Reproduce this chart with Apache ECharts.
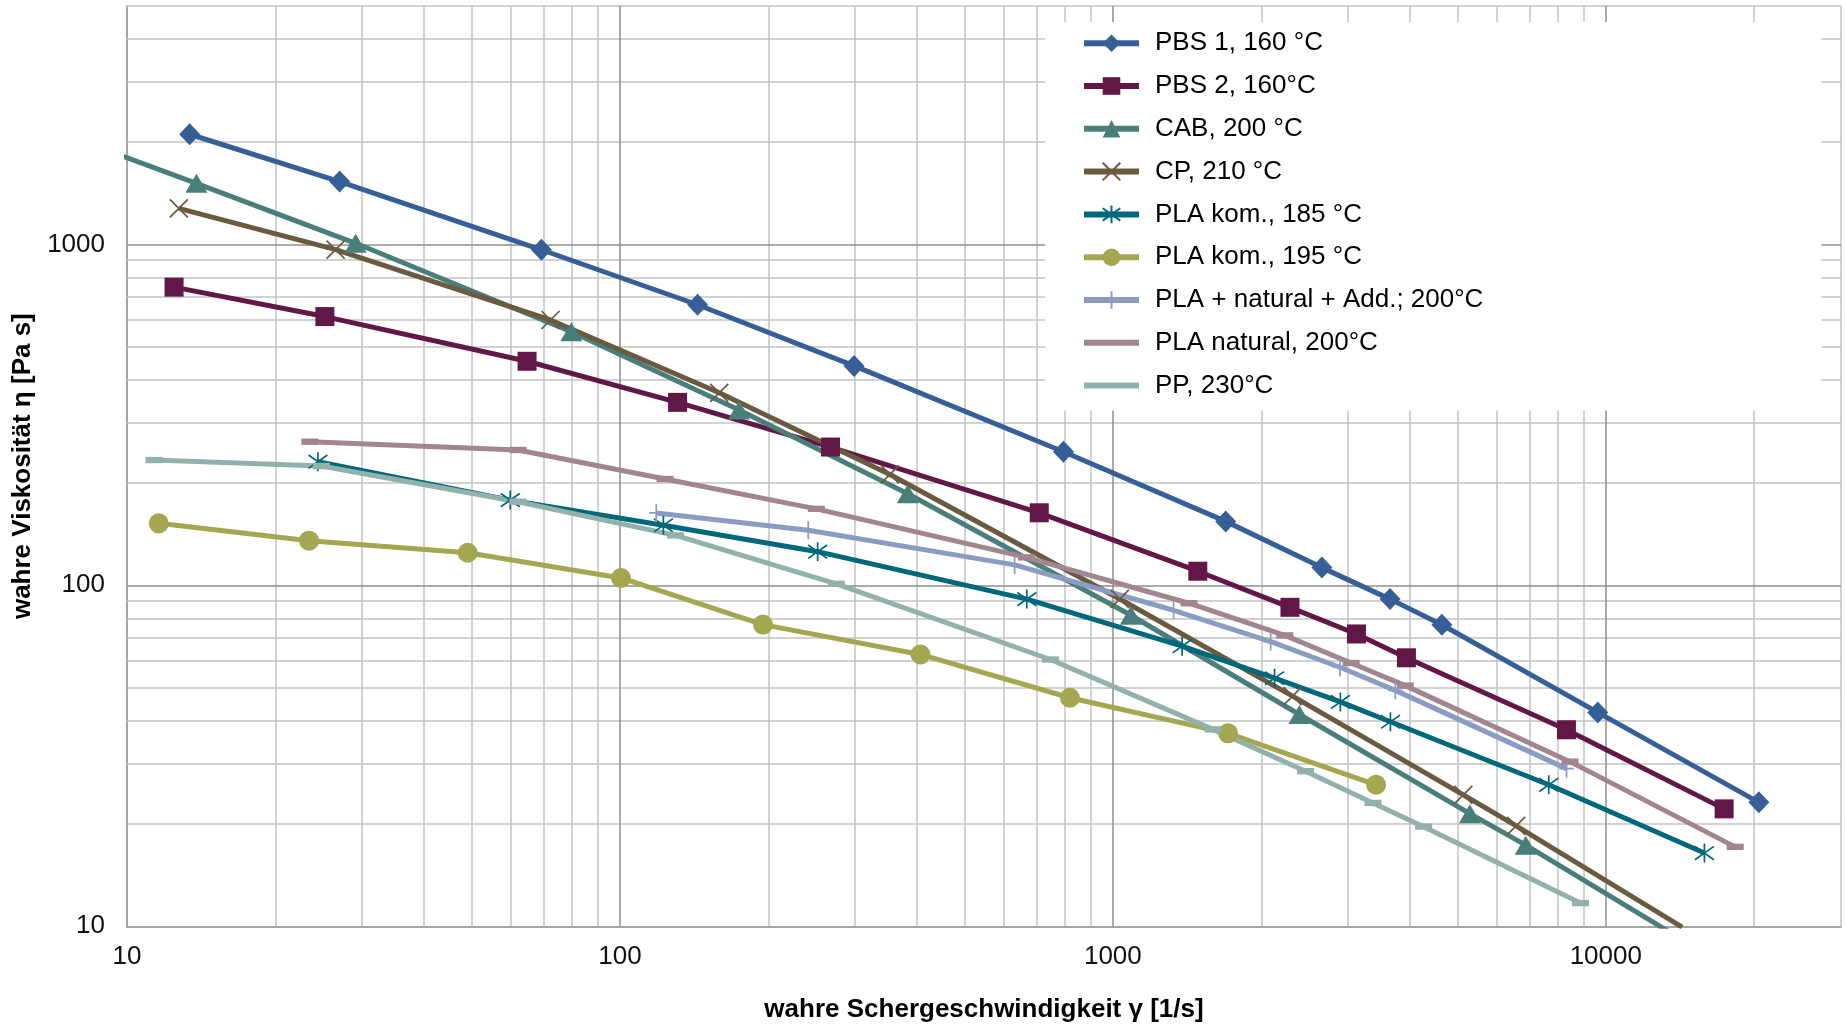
<!DOCTYPE html>
<html>
<head>
<meta charset="utf-8">
<script src="https://cdn.jsdelivr.net/npm/echarts@6/dist/echarts.min.js"></script>
<style>
html,body{margin:0;padding:0;background:#fff;}
#c{width:1845px;height:1024px;}
</style>
</head>
<body>
<div id="c"></div>
<script>
// ---------- data ----------
const seriesNames = [
  'PBS 1, 160 °C', 'PBS 2, 160°C', 'CAB, 200 °C', 'CP, 210 °C',
  'PLA kom., 185 °C', 'PLA kom., 195 °C', 'PLA + natural + Add.; 200°C',
  'PLA natural, 200°C', 'PP, 230°C'
];

const pbs1X = [13.4, 27.0, 69.3, 143.7, 298.5, 794, 1694, 2655, 3650, 4650, 9630, 20440];
const pbs1Y = [2103, 1528, 964, 665, 440, 246.5, 154, 112.7, 91.1, 76.6, 42.4, 23.1];

const pbs2X = [12.46, 25.2, 64.8, 130.9, 267.4, 709, 1487, 2287, 3120, 3940, 8320, 17380];
const pbs2Y = [749, 614, 454, 344, 254.4, 163.2, 110, 86.2, 72.0, 61.3, 37.7, 22.1];

const cabX = [8, 13.83, 29.1, 79.7, 174.5, 383.7, 1088, 2390, 5300, 6880, 14000];
const cabY = [2020, 1510, 1007, 554, 326.5, 185.5, 81.7, 41.8, 21.4, 17.3, 9.3];

const cpX = [12.74, 26.5, 72.3, 159, 353, 1033, 2315, 5140, 6580, 14280];
const cpY = [1275, 965, 600, 367, 211.4, 91.2, 47.3, 24.3, 19.7, 9.95];

const pla185X = [24.4, 59.9, 122.5, 251.8, 669, 1382, 2128, 2894, 3656, 7660, 15850];
const pla185Y = [230.4, 177.8, 150, 125.5, 91.1, 66.3, 53.4, 45.5, 39.8, 26.0, 16.4];

const pla195X = [11.6, 23.4, 49.1, 100.5, 195, 407, 818, 1713, 3420];
const pla195Y = [152, 135.2, 124.6, 105.1, 76.7, 62.7, 46.8, 36.8, 26.0];

const plaAddX = [118.5, 241, 632, 1328, 2090, 2888, 3740, 8325];
const plaAddY = [163, 145, 114.8, 84.5, 68.4, 57.5, 49.2, 29.0];

const plaNatX = [23.5, 62.1, 123.5, 250.3, 668, 1427, 2233, 3043, 3920, 8460, 18300];
const plaNatY = [263.8, 249.4, 205, 167.6, 120.8, 88.6, 71.3, 59.2, 50.8, 30.4, 17.1];

const ppX = [11.34, 24.8, 62.1, 129.7, 274.8, 747, 1597, 2460, 3370, 4270, 8886];
const ppY = [233, 223.8, 175.9, 140.1, 101, 60.6, 37.8, 28.5, 23.0, 19.6, 11.7];

const xTickValues = [10, 100, 1000, 10000];
const xTickLabels = ['10', '100', '1000', '10000'];
const yTickValues = [10, 100, 1000];
const yTickLabels = ['10', '100', '1000'];
const gridMultipliers = [2, 3, 4, 5, 6, 7, 8, 9];
const xDecades = [10, 100, 1000, 10000];
const yDecades = [10, 100, 1000];
const xAxisMax = 30000;
const yAxisMax = 5000;

// ---------- styling ----------
const FONT = 'Liberation Sans, Arial, Helvetica, sans-serif';
const colors = ['#365F97', '#621847', '#4A7E7A', '#6A5A40', '#00687A', '#A4A74F', '#8A9CC3', '#A1858F', '#93B1AC'];

const SYM_X = 'path://M0,0L10,10M10,0L0,10';
const SYM_AST = 'path://M5,0L5,10M0,1.5L10,8.5M10,1.5L0,8.5';
const SYM_PLUS = 'path://M5,0L5,10M1,5L9,5';
const SYM_DASH = 'path://M0,0L16,0L16,6L0,6Z';
const LEGEND_BAR = 'path://M0,0L55,0L55,6L0,6Z';

const symbolDefs = [
  {symbol: 'diamond', size: [21, 22], stroke: false},
  {symbol: 'rect', size: 19, stroke: false},
  {symbol: 'triangle', size: [22, 19], stroke: false},
  {symbol: SYM_X, size: 18, stroke: true},
  {symbol: SYM_AST, size: 19, stroke: true},
  {symbol: 'circle', size: 20, stroke: false},
  {symbol: SYM_PLUS, size: 18, stroke: true},
  {symbol: SYM_DASH, size: 17, stroke: false},
  {symbol: SYM_DASH, size: 17, stroke: false}
];

const dataX = [pbs1X, pbs2X, cabX, cpX, pla185X, pla195X, plaAddX, plaNatX, ppX];
const dataY = [pbs1Y, pbs2Y, cabY, cpY, pla185Y, pla195Y, plaAddY, plaNatY, ppY];

function zip(xs, ys) { return xs.map((x, i) => [x, ys[i]]); }

const series = seriesNames.map((name, i) => {
  const d = symbolDefs[i];
  return {
    name: name,
    type: 'line',
    z: 3,
    data: zip(dataX[i], dataY[i]),
    symbol: d.symbol,
    symbolSize: d.size,
    symbolKeepAspect: true,
    showAllSymbol: true,
    clip: true,
    lineStyle: {color: colors[i], width: 5},
    itemStyle: {
      color: colors[i],
      borderColor: colors[i],
      borderWidth: d.stroke ? 1.7 : 0
    },
    emphasis: {disabled: true},
    animation: false
  };
});

// gridlines drawn through the axes' own scales
const xMinor = [];
xDecades.forEach(dec => gridMultipliers.forEach(m => { if (dec * m <= xAxisMax) xMinor.push(dec * m); }));
const yMinor = [];
yDecades.forEach(dec => gridMultipliers.forEach(m => { if (dec * m <= yAxisMax) yMinor.push(dec * m); }));

function gridSeries(name, values, color) {
  return {
    type: 'line',
    name: name,
    z: 1,
    data: [],
    silent: true,
    animation: false,
    markLine: {
      z: 1,
      silent: true,
      animation: false,
      symbol: ['none', 'none'],
      label: {show: false},
      emphasis: {disabled: true},
      lineStyle: {color: color, width: 1.5, type: 'solid'},
      data: values
    }
  };
}

series.unshift(gridSeries('_majorGrid',
  xTickValues.slice(1).map(v => ({xAxis: v})).concat(yTickValues.slice(1).map(v => ({yAxis: v}))), '#8E8E8E'));
series.unshift(gridSeries('_minorGrid',
  xMinor.map(v => ({xAxis: v})).concat(yMinor.map(v => ({yAxis: v}))), '#C3C3C3'));

function labelFor(values, labels) {
  return function (v) {
    for (let k = 0; k < values.length; k++) {
      if (Math.abs(v - values[k]) / values[k] < 1e-6) return labels[k];
    }
    return '';
  };
}

const legendData = seriesNames.map((n, i) => (i >= 7 ? {name: n, icon: LEGEND_BAR} : {name: n}));

const option = {
  backgroundColor: '#ffffff',
  animation: false,
  grid: {left: 127, right: 4, top: 6, bottom: 97.7, containLabel: false, outerBoundsMode: 'none'},
  xAxis: {
    type: 'log',
    logBase: 10,
    min: 10,
    max: xAxisMax,
    name: 'wahre Schergeschwindigkeit γ [1/s]',
    nameLocation: 'middle',
    nameGap: 71,
    nameTextStyle: {fontSize: 26, fontWeight: 'bold', fontFamily: FONT, color: '#000'},
    axisLine: {show: true, lineStyle: {color: '#868686', width: 1.5}},
    axisTick: {show: false},
    splitLine: {show: false},
    axisLabel: {fontSize: 26, fontFamily: FONT, color: '#111', margin: 18, formatter: labelFor(xTickValues, xTickLabels), showMaxLabel: false}
  },
  yAxis: {
    type: 'log',
    logBase: 10,
    min: 10,
    max: yAxisMax,
    name: 'wahre Viskosität η [Pa s]',
    nameLocation: 'middle',
    nameGap: 88,
    nameTextStyle: {fontSize: 26, fontWeight: 'bold', fontFamily: FONT, color: '#000'},
    axisLine: {show: true, lineStyle: {color: '#868686', width: 1.5}},
    axisTick: {show: false},
    splitLine: {show: false},
    axisLabel: {fontSize: 26, fontFamily: FONT, color: '#111', margin: 22, formatter: labelFor(yTickValues, yTickLabels), showMaxLabel: false}
  },
  legend: {
    show: true,
    z: 10,
    orient: 'vertical',
    left: 1045,
    top: 22,
    data: legendData,
    itemWidth: 55,
    itemHeight: 22,
    itemGap: 16.8,
    backgroundColor: '#ffffff',
    padding: [8.2, 338, 12, 36],
    selectedMode: false,
    symbolKeepAspect: true,
    lineStyle: {width: 6},
    textStyle: {fontSize: 26, fontFamily: FONT, color: '#000', lineHeight: 26, padding: [0, 0, 0, 11]}
  },
  series: series
};

const chart = echarts.init(document.getElementById('c'), null, {renderer: 'canvas'});
chart.setOption(option);
</script>
</body>
</html>
